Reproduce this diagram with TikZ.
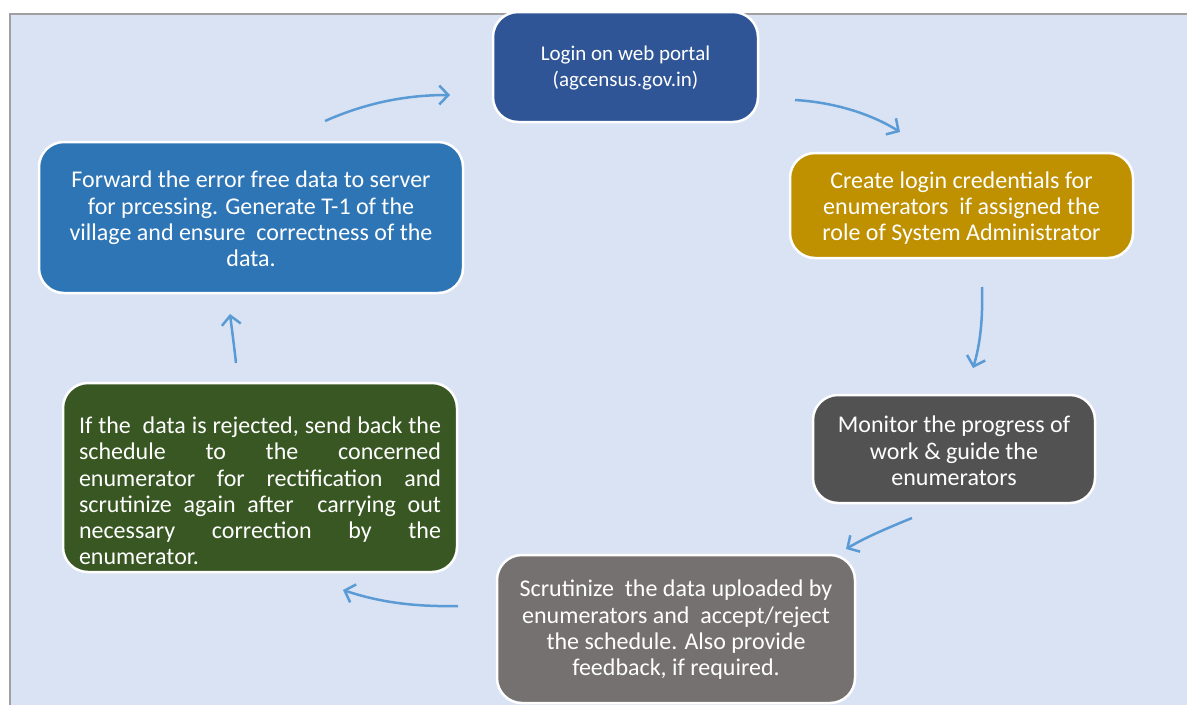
\documentclass[tikz,border=0pt]{standalone}
\usepackage{fontspec}
\setmainfont{Carlito}
\usetikzlibrary{arrows.meta,calc}
\definecolor{bgblue}{HTML}{DAE3F3}
\definecolor{frame}{HTML}{A0A0A0}
\definecolor{cLogin}{HTML}{2F5597}
\definecolor{cCreate}{HTML}{BF9000}
\definecolor{cMonitor}{HTML}{525252}
\definecolor{cScrut}{HTML}{767171}
\definecolor{cGreen}{HTML}{385723}
\definecolor{cForward}{HTML}{2E75B6}
\definecolor{cArrow}{HTML}{5B9BD5}
\newcommand{\jline}[1]{\makebox[362pt][s]{#1}}
\tikzset{
  box/.style={draw=white, line width=2.5pt, rounded corners=25pt, inner sep=0pt},
  txt/.style={text=white, font=\fontsize{24}{26.3}\selectfont, align=center, inner sep=0pt},
  flow/.style={draw=cArrow, line width=2.5pt, -{Straight Barb[length=9pt,width=19pt,line width=2.5pt]}}
}
\begin{document}
\begin{tikzpicture}[x=1pt,y=-1pt]
\useasboundingbox (0,0) rectangle (1187,705);
\fill[white] (0,0) rectangle (1187,705);
\fill[bgblue] (10,14) rectangle (1187,705);
\draw[frame, line width=2pt] (10,705) -- (10,14) -- (1187,14);

% boxes
\node[box, fill=cLogin, minimum width=265pt, minimum height=110pt] (login) at (625.5,67) {};
\node[box, fill=cCreate, minimum width=343pt, minimum height=105pt] (create) at (961.5,205.5) {};
\node[box, fill=cMonitor, minimum width=282pt, minimum height=108pt] (monitor) at (954,449) {};
\node[box, fill=cScrut, minimum width=358pt, minimum height=148pt] (scrut) at (676,629) {};
\node[box, fill=cGreen, minimum width=394pt, minimum height=189pt] (reject) at (260,477.5) {};
\node[box, fill=cForward, minimum width=424pt, minimum height=151pt] (forward) at (251,217.5) {};

% texts
\node[txt, font=\fontsize{21}{26.3}\selectfont] (tlogin) at ($(login.center)+(0,1)$) {Login on web portal\\(agcensus.gov.in)};
\node[txt] (tcreate) at ($(create.center)+(0,2.5)$) {Create login credentials for\\enumerators\ \ if assigned the\\role of System Administrator};
\node[txt] (tmonitor) at ($(monitor.center)+(0,2)$) {Monitor the progress of\\work \& guide the\\enumerators};
\node[txt] (tscrut) at ($(scrut.center)+(0,1)$) {Scrutinize\ \ the data uploaded by\\enumerators and\ \ accept/reject\\the schedule. Also provide\\feedback, if required.};
\node[txt, align=left] (treject) at ($(reject.center)+(0,13.5)$) {\jline{If the\ \ data is rejected, send back the}\\\jline{schedule to the concerned}\\\jline{enumerator for rectification and}\\\jline{scrutinize again after\ \ carrying out}\\\jline{necessary correction by the}\\enumerator.};
\node[txt] (tforward) at ($(forward.center)+(0,1.5)$) {Forward the error free data to server\\for prcessing. Generate T-1 of the\\village and ensure\ \ correctness of the\\data.};

% connector end points
\coordinate (a1) at (325,121);  \coordinate (a2) at (450,95);
\coordinate (b1) at (795,100);  \coordinate (b2) at (900,132);
\coordinate (c1) at (982,287);  \coordinate (c2) at (973,368);
\coordinate (d1) at (912,518);  \coordinate (d2) at (846,549);
\coordinate (e1) at (458,606);  \coordinate (e2) at (343,590);
\coordinate (f1) at (236,363);  \coordinate (f2) at (230,314);

\draw[flow] (a1) .. controls (368,102) and (408,95) .. (a2);
\draw[flow] (b1) .. controls (830,102) and (868,112) .. (b2);
\draw[flow] (c1) .. controls (983,320) and (980,345) .. (c2);
\draw[flow] (d1) .. controls (890,527) and (866,537) .. (d2);
\draw[flow] (e1) .. controls (410,607) and (376,601) .. (e2);
\draw[flow] (f1) .. controls (234,345) and (232,330) .. (f2);
\end{tikzpicture}
\end{document}
